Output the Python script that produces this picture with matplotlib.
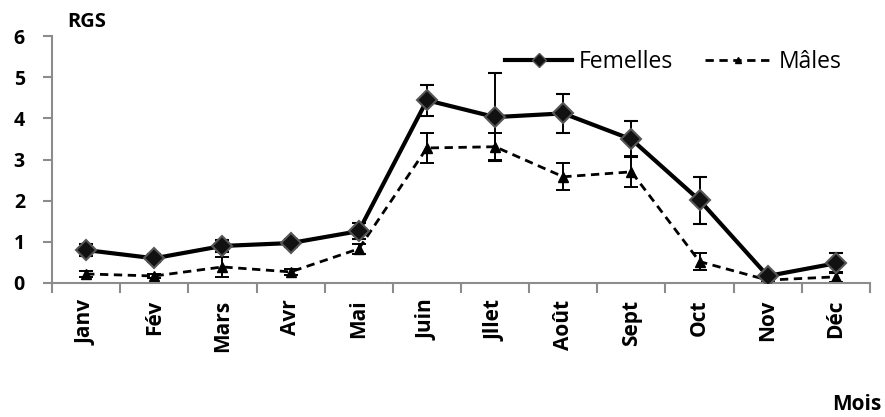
import numpy as np
import matplotlib.pyplot as plt
from matplotlib.lines import Line2D

plt.rcParams["font.family"] = ["Open Sans", "DejaVu Sans"]
plt.rcParams["font.weight"] = "bold"

months = ["Janv", "Fév", "Mars", "Avr", "Mai", "Juin", "Jllet", "Août", "Sept", "Oct", "Nov", "Déc"]
femelles = [0.80, 0.60, 0.90, 0.97, 1.26, 4.44, 4.03, 4.12, 3.49, 2.01, 0.17, 0.48]
femelles_err = [0.15, 0.10, 0.15, 0.10, 0.20, 0.38, 1.07, 0.48, 0.44, 0.57, 0.08, 0.24]
males = [0.22, 0.17, 0.39, 0.27, 0.83, 3.28, 3.31, 2.58, 2.70, 0.52, 0.07, 0.15]
males_err = [0.08, 0.05, 0.25, 0.08, 0.12, 0.37, 0.33, 0.33, 0.38, 0.20, 0.05, 0.12]

GREY = "#8C8C8C"
DASH = (0, (3, 2))

fig = plt.figure(figsize=(8.85, 4.17), dpi=100)
ax = fig.add_axes([52 / 885, 1 - 283 / 417, (870 - 52) / 885, (283 - 36) / 417])

x = np.arange(len(months)) + 0.5

ax.errorbar(x, femelles, yerr=femelles_err, color="black", linewidth=3,
            marker="D", markersize=10, markerfacecolor="#111111",
            markeredgecolor="#555555", markeredgewidth=1.5,
            ecolor="black", elinewidth=1.4, capsize=5, capthick=1.4, zorder=3)
ax.errorbar(x, males, yerr=males_err, color="black", linewidth=2,
            linestyle=DASH, marker="^", markersize=7,
            markerfacecolor="black", markeredgecolor="black",
            ecolor="black", elinewidth=1.4, capsize=5, capthick=1.4, zorder=2)

ax.set_xlim(0, 12)
ax.set_ylim(0, 6)
ax.set_yticks(range(0, 7))
ax.set_xticks(range(0, 13))
ax.set_xticklabels([])
ax.set_xticks(x, minor=True)
ax.set_xticklabels(months, minor=True, rotation=90, fontsize=15, fontweight="bold")
ax.tick_params(axis="x", which="minor", length=0, pad=12)
ax.tick_params(axis="x", which="major", direction="out", length=7, color=GREY, width=1.5)
ax.tick_params(axis="y", direction="out", length=6.5, color=GREY, width=1.5, labelsize=14, pad=13)
for lab in ax.get_yticklabels():
    lab.set_fontweight("bold")

for side in ["top", "right"]:
    ax.spines[side].set_visible(False)
for side in ["left", "bottom"]:
    ax.spines[side].set_color(GREY)
    ax.spines[side].set_linewidth(1.5)

handles = [
    Line2D([], [], color="black", linewidth=3, marker="D", markersize=7,
           markerfacecolor="#111111", markeredgecolor="#555555"),
    Line2D([], [], color="black", linewidth=2, linestyle=DASH, marker="^",
           markersize=5, markerfacecolor="black"),
]
ax.legend(handles, ["Femelles", "Mâles"], loc="center right", bbox_to_anchor=(0.99, 0.895),
          ncol=2, frameon=False, handlelength=2.9, columnspacing=1.4, handletextpad=0.3,
          prop={"weight": "normal", "size": 16.5})

fig.text(67 / 885, 1 - 22 / 417, "RGS", fontsize=14.5, fontweight="bold", va="center")
fig.text(881 / 885, 1 - 404 / 417, "Mois", fontsize=15, fontweight="bold", va="center", ha="right")

fig.savefig("out.png", dpi=100)
